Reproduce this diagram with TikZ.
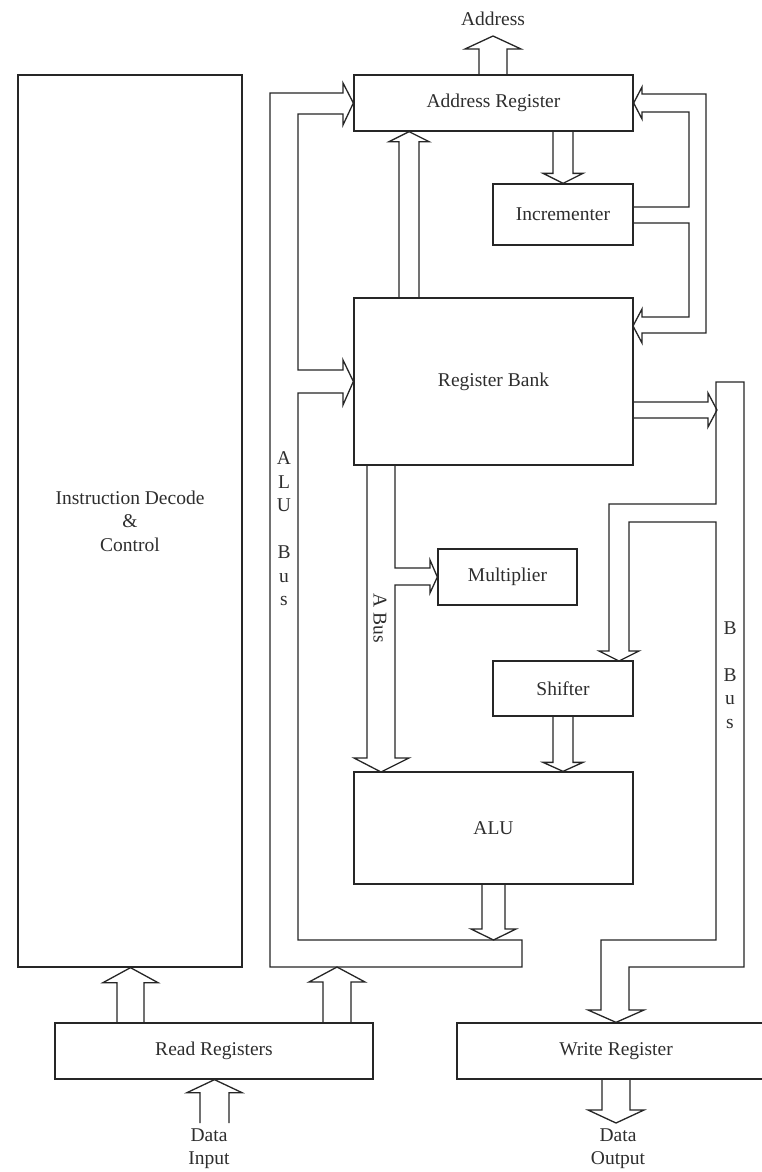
\documentclass[tikz,border=0pt]{standalone}
\usepackage{fontspec}
\setmainfont{Liberation Serif}
\usetikzlibrary{calc}
\newcommand\fatv[6]{% x, start, tip, half shaft, half head, signed head length
  \draw[line] let \p1=(#2), \p2=(#3) in
    ({(#1-#4)*1pt},\y1) -- ({(#1-#4)*1pt},{\y2+(#6)*1pt}) -- ({(#1-#5)*1pt},{\y2+(#6)*1pt})
    -- ({(#1)*1pt},\y2) -- ({(#1+#5)*1pt},{\y2+(#6)*1pt}) -- ({(#1+#4)*1pt},{\y2+(#6)*1pt})
    -- ({(#1+#4)*1pt},\y1);}
\newcommand\fath[6]{% y, start, tip, half shaft, half head, signed head length
  \draw[line] let \p1=(#2), \p2=(#3) in
    (\x1,{-(#1-#4)*1pt}) -- ({\x2+(#6)*1pt},{-(#1-#4)*1pt}) -- ({\x2+(#6)*1pt},{-(#1-#5)*1pt})
    -- (\x2,{-(#1)*1pt}) -- ({\x2+(#6)*1pt},{-(#1+#5)*1pt}) -- ({\x2+(#6)*1pt},{-(#1+#4)*1pt})
    -- (\x1,{-(#1+#4)*1pt});}
\begin{document}
\begin{tikzpicture}[x=1pt,y=-1pt,
  line/.style={draw=black!85, line width=1.3pt, line join=miter},
  txt/.style={font=\fontsize{19.5}{23.5}\selectfont, text=black!82},
  box/.style={line, txt, rectangle, inner sep=0pt, anchor=center, align=center},
  lbl/.style={txt, inner sep=0pt, align=center}]
\useasboundingbox (0,0) rectangle (762,1172);
\fill[white] (0,0) rectangle (762,1172);
\clip (0,0) rectangle (762,1172);

% boxes
\node[box, minimum width=224pt, minimum height=892pt] (idc) at (130,521) {Instruction Decode\\\&\\Control};
\node[box, minimum width=279pt, minimum height=56pt] (ar) at (493.5,103) {Address Register};
\node[box, minimum width=140pt, minimum height=61pt] (inc) at (563,214.5) {Incrementer};
\node[box, minimum width=279pt, minimum height=167pt] (rb) at (493.5,381.5) {Register Bank};
\node[box, minimum width=139pt, minimum height=56pt] (mult) at (507.5,577) {Multiplier};
\node[box, minimum width=140pt, minimum height=55pt] (sh) at (563,688.5) {Shifter};
\node[box, minimum width=279pt, minimum height=112pt] (alu) at (493.5,828) {ALU};
\node[box, minimum width=318pt, minimum height=56pt] (rr) at (214,1051) {Read Registers};
\node[box, minimum width=318pt, minimum height=56pt] (wr) at (616,1051) {Write Register};

% labels
\node[lbl] (addr) at (493,19) {Address};
\node[lbl] (din) at (209,1148.5) {Data\\Input};
\node[lbl] (dout) at (618,1148.5) {Data\\Output};
\node[lbl] (alubus) at (284,529) {A\\L\\U\\[23.5pt]B\\u\\s};
\node[lbl] (bbus) at (730,675) {B\\[23.5pt]B\\u\\s};
\node[lbl, rotate=-90] (abus) at (380,618) {A Bus};

% free ends
\coordinate (addrtip) at (493,36);
\coordinate (alubusin) at (493.5,940);
\coordinate (alubusout) at (337,967);
\coordinate (dinstart) at (214.5,1123);
\coordinate (douttip) at (616,1123);
\coordinate (bbusin) at (717,410);

% straight fat arrows
\fatv{493}{ar.north}{addrtip}{14}{28}{-13}
\fatv{409}{rb.north}{ar.south}{10}{20}{-10}
\fatv{563}{ar.south}{inc.north}{10}{20}{10}
\fatv{563}{sh.south}{alu.north}{10}{20}{9}
\fatv{493.5}{alu.south}{alubusin}{11.5}{22.5}{11}
\fatv{130.5}{rr.north}{idc.south}{13.5}{27.5}{-15}
\fatv{337}{rr.north}{alubusout}{14}{28}{-15}
\fatv{214.5}{dinstart}{rr.south}{14.5}{27.5}{-13}
\fatv{616}{wr.south}{douttip}{14}{28}{13}
\fath{410}{rb.east}{bbusin}{8}{17}{-9}

% ALU bus
\draw[line] (343,93) -- (270,93) -- (270,967) -- (522,967) -- (522,940) -- (298,940)
  -- (298,393) -- (343,393) -- (343,405) -- (rb.west) -- (343,360) -- (343,370)
  -- (298,370) -- (298,114) -- (343,114) -- (343,125) -- (ar.west) -- (343,83) -- cycle;

% incrementer outputs
\draw[line] (633,207) -- (689,207) -- (689,112) -- (642,112) -- (642,119) -- (ar.east)
  -- (642,87) -- (642,94) -- (706,94) -- (706,333) -- (642,333) -- (642,343)
  -- (633,326) -- (642,309) -- (642,317) -- (689,317) -- (689,223) -- (633,223);

% B bus
\draw[line] (716,382) -- (744,382) -- (744,967) -- (629,967) -- (629,1010) -- (644,1010)
  -- (wr.north) -- (588,1010) -- (601,1010) -- (601,940) -- (716,940) -- (716,522)
  -- (629,522) -- (629,651) -- (639,651) -- (619,661) -- (599,651) -- (609,651)
  -- (609,504) -- (716,504) -- cycle;

% A bus with multiplier branch
\draw[line] (367,465) -- (367,758) -- (354,758) -- (381,772) -- (409,758) -- (395,758)
  -- (395,585) -- (430,585) -- (430,593) -- (mult.west) -- (430,560) -- (430,568)
  -- (395,568) -- (395,465);
\end{tikzpicture}
\end{document}
